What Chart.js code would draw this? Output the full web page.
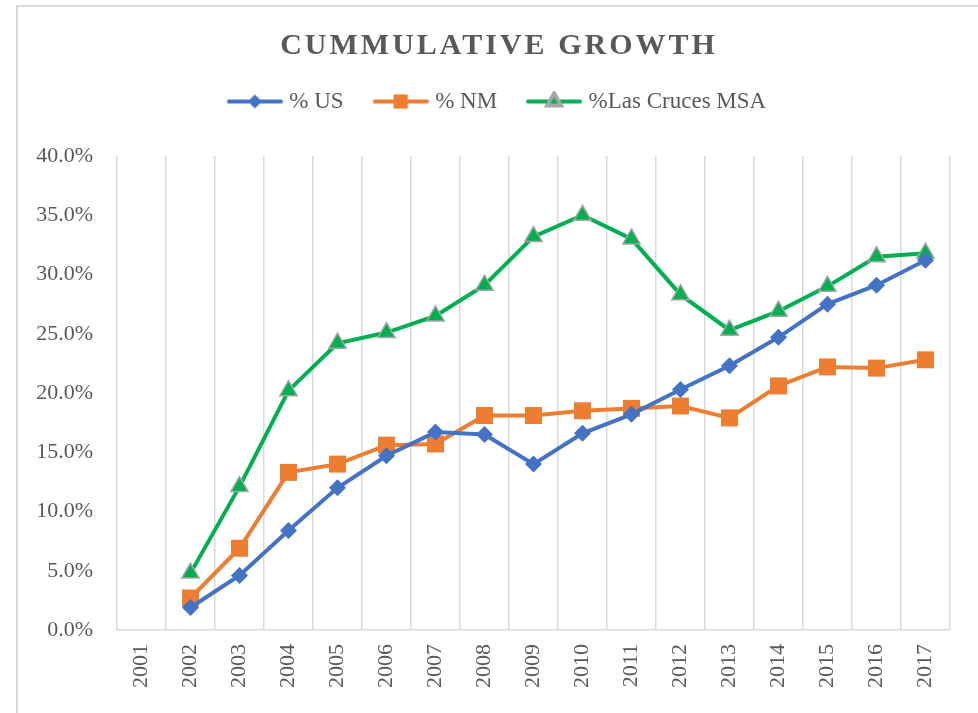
<!DOCTYPE html>
<html>
<head>
<meta charset="utf-8">
<script src="https://cdn.jsdelivr.net/npm/chart.js@4"></script>
<style>
  html, body { margin: 0; padding: 0; background: #fff; }
  #wrap { width: 978px; height: 713px; }
</style>
</head>
<body>
<div id="wrap"><canvas id="growth"></canvas></div>
<script>
const years = ['2001', '2002', '2003', '2004', '2005', '2006', '2007', '2008', '2009',
  '2010', '2011', '2012', '2013', '2014', '2015', '2016', '2017']

// cumulative growth in percent (2001 is the base year, no value)
const usGrowth = [null, 1.9, 4.6, 8.4, 12.0, 14.7, 16.7, 16.5, 14.0, 16.6, 18.2, 20.3, 22.3, 24.7, 27.5, 29.1, 31.2]
const nmGrowth = [null, 2.7, 6.9, 13.3, 14.0, 15.6, 15.7, 18.1, 18.1, 18.5, 18.7, 18.9, 17.9, 20.6, 22.2, 22.1, 22.8]
const lcGrowth = [null, 4.8, 12.1, 20.2, 24.2, 25.1, 26.5, 29.1, 33.2, 35.0, 33.0, 28.3, 25.3, 26.9, 29.0, 31.5, 31.8]

const seriesNames = ['% US', '% NM', '%Las Cruces MSA']
const yTicks = { min: 0, max: 40, step: 5 }

const grey = '#595959'
const font = 'Liberation Serif'

// legend swatch: a short line with the marker in the middle
const swatch = (color, style, radius, border) => {
  const c = document.createElement('canvas')
  c.width = 56
  c.height = 22
  const g = c.getContext('2d')
  g.strokeStyle = color
  g.lineWidth = 4
  g.lineCap = 'round'
  g.beginPath()
  g.moveTo(2, 11)
  g.lineTo(54, 11)
  g.stroke()
  g.fillStyle = color
  g.strokeStyle = border || color
  Chart.helpers.drawPoint(g, { pointStyle: style, radius: radius, borderWidth: border ? 1.5 : 0 }, 28, 11)
  return c
}

// the original chart is centred on a frame wider than the picture
const shiftX = 14

const shifted = (box, spacing) => {
  if (!box || box._shifted) return
  const orig = box.draw
  box.draw = function () {
    const c = this.ctx
    c.save()
    c.translate(shiftX, 0)
    if (spacing) c.letterSpacing = spacing
    orig.apply(this, arguments)
    c.restore()
  }
  box._shifted = true
}

const frame = {
  id: 'frame',
  afterInit(chart) {
    // extra room between legend and plot
    const lg = chart.legend
    const fit = lg.fit
    lg.fit = function () {
      fit.apply(this, arguments)
      this.height += 33
    }
  },
  beforeDraw(chart) {
    const c = chart.ctx
    c.save()
    c.strokeStyle = '#d9d9d9'
    c.lineWidth = 2
    c.strokeRect(17, 6, 980, 720)
    c.restore()
    shifted(chart.titleBlock, '3px')
    shifted(chart.legend)
  }
}

const legendMarks = [
  swatch('#4472C4', 'rectRot', 7),
  swatch('#ED7D31', 'rect', 10),
  swatch('#00B050', 'triangle', 8, '#A5A5A5')
]

new Chart(document.getElementById('growth'), {
  type: 'line',
  data: {
    labels: years,
    datasets: [{
      label: seriesNames[0],
      data: usGrowth,
      borderColor: '#4472C4',
      backgroundColor: '#4472C4',
      borderWidth: 4,
      pointStyle: 'rectRot',
      pointRadius: 8.5,
      pointBorderWidth: 0
    }, {
      label: seriesNames[1],
      data: nmGrowth,
      borderColor: '#ED7D31',
      backgroundColor: '#ED7D31',
      borderWidth: 4,
      pointStyle: 'rect',
      pointRadius: 12,
      pointBorderWidth: 0
    }, {
      label: seriesNames[2],
      data: lcGrowth,
      borderColor: '#00B050',
      backgroundColor: '#00B050',
      borderWidth: 4,
      pointStyle: 'triangle',
      pointRadius: 10,
      pointBorderColor: '#A5A5A5',
      pointBorderWidth: 1.5
    }]
  },
  plugins: [frame],
  options: {
    responsive: true,
    maintainAspectRatio: false,
    animation: false,
    layout: { padding: { left: 20, right: 28, top: 0, bottom: 0 } },
    plugins: {
      title: {
        display: true,
        text: 'CUMMULATIVE GROWTH',
        color: grey,
        font: { family: font, size: 30, weight: 'bold' },
        padding: { top: 28, bottom: -8 }
      },
      legend: {
        labels: {
          color: grey,
          font: { family: font, size: 23 },
          usePointStyle: true,
          pointStyleWidth: 46,
          padding: 34,
          generateLabels(chart) {
            const items = Chart.defaults.plugins.legend.labels.generateLabels(chart)
            items.forEach((it, i) => { it.pointStyle = legendMarks[i] })
            return items
          }
        }
      },
      tooltip: { enabled: false }
    },
    scales: {
      x: {
        offset: true,
        grid: { display: true, offset: true, color: '#d9d9d9', lineWidth: 1.5, drawTicks: false },
        border: { display: true, color: '#d9d9d9', width: 1.5 },
        ticks: {
          color: grey,
          font: { family: font, size: 22 },
          minRotation: 90,
          maxRotation: 90,
          padding: 14,
          autoSkip: false
        },
        afterFit(scale) { scale.height = 83 }
      },
      y: {
        min: yTicks.min,
        max: yTicks.max,
        grid: { display: false, drawTicks: false },
        border: { display: false },
        ticks: {
          stepSize: yTicks.step,
          color: grey,
          font: { family: font, size: 22 },
          padding: 24,
          callback: (v) => v.toFixed(1) + '%'
        },
        afterFit(scale) { scale.width = 97 }
      }
    }
  }
})
</script>
</body>
</html>
